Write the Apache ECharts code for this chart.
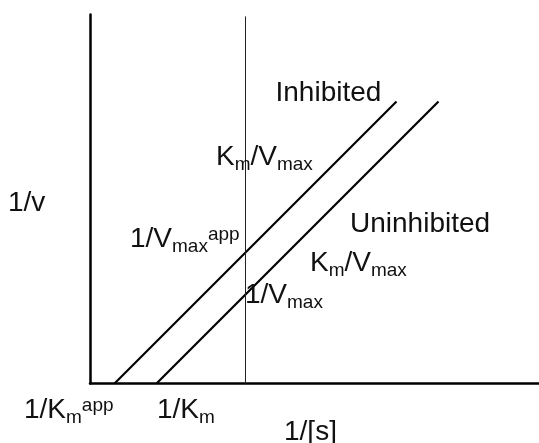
<!DOCTYPE html>
<html>
<head>
<meta charset="utf-8">
<script src="https://cdn.jsdelivr.net/npm/echarts@6/dist/echarts.min.js"></script>
<style>
html,body{margin:0;padding:0;background:#fff;}
#chart{width:539px;height:443px;}
</style>
</head>
<body>
<div id="chart"></div>
<script>
// Schematic Lineweaver-Burk data (arbitrary units; x = 1/[s], y = 1/v)
const inhibitedX = [-13.1, 15.1];
const inhibitedY = [0, 28.2];
const uninhibitedX = [-8.9, 19.3];
const uninhibitedY = [0, 28.2];
const refLineX = [0, 0];
const refLineY = [0, 36.7];
const xRange = [-15.55, 29.35];
const yRange = [0, 36.9];

// Text labels (rich-text markup: n = normal, s = subscript, p = superscript)
const lblInhibited = '{n|Inhibited}';
const lblUninhibited = '{n|Uninhibited}';
const lblSlope = '{n|K}{s|m}{n|/V}{s|max}';
const lblInterceptApp = '{n|1/V}{s|max}{p|app}';
const lblIntercept = '{n|1/V}{s|max}';
const lblKmApp = '{n|1/K}{s|m}{p|app}';
const lblKm = '{n|1/K}{s|m}';
const lblXName = '{n|1/[s]}';
const lblYName = '{n|1/v}';

const FONT = "'Liberation Sans', Arial, Helvetica, sans-serif";
const TXT = '#111';
const rich = {
  n: {fontSize: 28, lineHeight: 28, padding: [0, 0, 8, 0], fontFamily: FONT, color: TXT},
  s: {fontSize: 19, lineHeight: 19, padding: [6, 0, 0, 0], fontFamily: FONT, color: TXT},
  p: {fontSize: 19, lineHeight: 19, padding: [0, 0, 18, 0], fontFamily: FONT, color: TXT}
};

function pairs(xs, ys) { return xs.map((x, i) => [x, ys[i]]); }

function label(text, x, y) {
  return {
    type: 'text', x: x, y: y, z: 100,
    style: {
      text: text, rich: rich, fill: TXT,
      align: 'left', textAlign: 'left',
      verticalAlign: 'middle', textVerticalAlign: 'middle',
      font: '28px ' + FONT
    }
  };
}

const chart = echarts.init(document.getElementById('chart'), null, {renderer: 'canvas'});
const axisLine = {show: true, onZero: false, lineStyle: {color: '#000', width: 2.5}};
chart.setOption({
  animation: false,
  backgroundColor: '#fff',
  grid: {left: 90, right: 0, top: 14.4, bottom: 59.5},
  xAxis: {
    type: 'value', min: xRange[0], max: xRange[1],
    axisLine: axisLine, axisTick: {show: false}, axisLabel: {show: false}, splitLine: {show: false}
  },
  yAxis: {
    type: 'value', min: yRange[0], max: yRange[1],
    axisLine: axisLine, axisTick: {show: false}, axisLabel: {show: false}, splitLine: {show: false}
  },
  series: [
    {name: 'Inhibited', type: 'line', data: pairs(inhibitedX, inhibitedY), showSymbol: false,
     lineStyle: {color: '#000', width: 2.2}, silent: true},
    {name: 'Uninhibited', type: 'line', data: pairs(uninhibitedX, uninhibitedY), showSymbol: false,
     lineStyle: {color: '#000', width: 2.2}, silent: true},
    {name: 'ref', type: 'line', data: pairs(refLineX, refLineY), showSymbol: false,
     lineStyle: {color: '#222', width: 1}, silent: true}
  ],
  graphic: [
    label(lblInhibited, 275.5, 97.3),
    label(lblSlope, 216, 161.3),
    label(lblInterceptApp, 130, 243.3),
    label(lblUninhibited, 350, 228.3),
    label(lblSlope, 310, 267.3),
    label(lblIntercept, 245, 299.3),
    label(lblKmApp, 24, 414.3),
    label(lblKm, 157, 414.3),
    label(lblXName, 284, 436.3),
    label(lblYName, 8, 207.3)
  ]
});
</script>
</body>
</html>
